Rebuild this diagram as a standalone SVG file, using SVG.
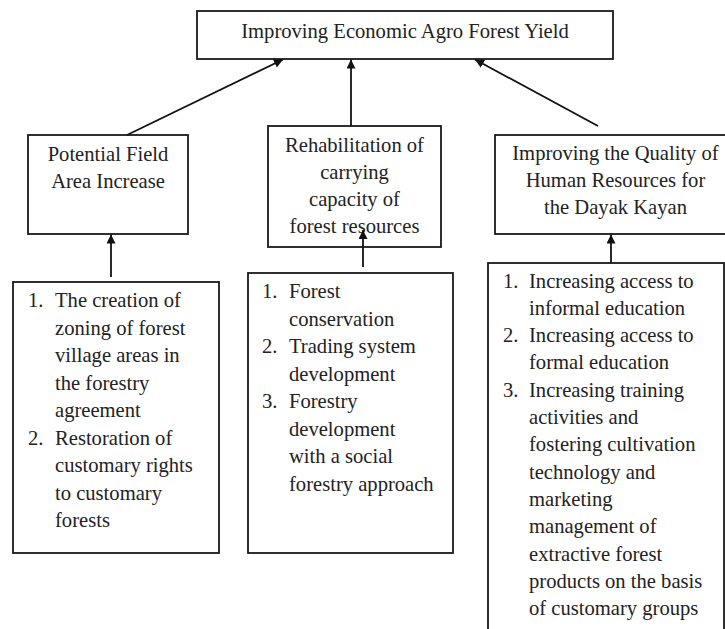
<svg xmlns="http://www.w3.org/2000/svg" width="725" height="629" viewBox="0 0 725 629">
  <defs>
    <marker id="arrow" viewBox="0 0 10 10" refX="10" refY="5" markerWidth="9" markerHeight="9" markerUnits="userSpaceOnUse" orient="auto">
      <path d="M0,0 L10,5 L0,10 z" fill="#111"/>
    </marker>
    <style>
      .box { fill: #fff; stroke: #1a1a1a; stroke-width: 1.8; }
      .t { font-family: "Liberation Serif", "Times New Roman", serif; font-size: 20.6px; fill: #222; }
      .c { text-anchor: middle; }
      .edge { stroke: #111; stroke-width: 1.8; fill: none; marker-end: url(#arrow); }
    </style>
  </defs>
  <rect width="725" height="629" fill="#fff"/>

  <!-- goal -->
  <g id="goal">
    <rect class="box" x="197" y="11" width="416" height="48"/>
    <text class="t c" x="405" y="38">Improving Economic Agro Forest Yield</text>
  </g>

  <!-- strategy boxes -->
  <g id="field-area">
    <rect class="box" x="28" y="135" width="160" height="99"/>
    <text class="t c" x="108" y="161">Potential Field</text>
    <text class="t c" x="108" y="188">Area Increase</text>
  </g>

  <g id="rehabilitation">
    <rect class="box" x="268" y="126" width="173" height="121"/>
    <text class="t c" x="354.5" y="152">Rehabilitation of</text>
    <text class="t c" x="354.5" y="179">carrying</text>
    <text class="t c" x="354.5" y="206">capacity of</text>
    <text class="t c" x="354.5" y="233">forest resources</text>
  </g>

  <g id="human-resources">
    <rect class="box" x="495" y="135" width="240" height="99"/>
    <text class="t c" x="615.5" y="160">Improving the Quality of</text>
    <text class="t c" x="615.5" y="187">Human Resources for</text>
    <text class="t c" x="615.5" y="214">the Dayak Kayan</text>
  </g>

  <!-- action lists -->
  <g id="field-area-actions">
    <rect class="box" x="13" y="282" width="206" height="271"/>
    <g class="t">
      <text x="28" y="307">1.</text>
      <text x="55" y="307">The creation of</text>
      <text x="55" y="334.5">zoning of forest</text>
      <text x="55" y="362">village areas in</text>
      <text x="55" y="389.5">the forestry</text>
      <text x="55" y="417">agreement</text>
      <text x="28" y="444.5">2.</text>
      <text x="55" y="444.5">Restoration of</text>
      <text x="55" y="472">customary rights</text>
      <text x="55" y="499.5">to customary</text>
      <text x="55" y="527">forests</text>
    </g>
  </g>

  <g id="rehabilitation-actions">
    <rect class="box" x="248" y="273" width="205" height="280"/>
    <g class="t">
      <text x="262" y="298">1.</text>
      <text x="289" y="298">Forest</text>
      <text x="289" y="325.5">conservation</text>
      <text x="262" y="353">2.</text>
      <text x="289" y="353">Trading system</text>
      <text x="289" y="380.5">development</text>
      <text x="262" y="408">3.</text>
      <text x="289" y="408">Forestry</text>
      <text x="289" y="435.5">development</text>
      <text x="289" y="463">with a social</text>
      <text x="289" y="490.5">forestry approach</text>
    </g>
  </g>

  <g id="human-resources-actions">
    <rect class="box" x="488" y="263" width="236" height="380"/>
    <g class="t">
      <text x="503" y="288">1.</text>
      <text x="529" y="288">Increasing access to</text>
      <text x="529" y="315">informal education</text>
      <text x="503" y="342">2.</text>
      <text x="529" y="342">Increasing access to</text>
      <text x="529" y="369">formal education</text>
      <text x="503" y="396.5">3.</text>
      <text x="529" y="396.5">Increasing training</text>
      <text x="529" y="424">activities and</text>
      <text x="529" y="451">fostering cultivation</text>
      <text x="529" y="478.5">technology and</text>
      <text x="529" y="506">marketing</text>
      <text x="529" y="533">management of</text>
      <text x="529" y="560.5">extractive forest</text>
      <text x="529" y="588">products on the basis</text>
      <text x="529" y="615">of customary groups</text>
    </g>
  </g>

  <!-- connectors -->
  <g id="connectors">
    <line class="edge" x1="127" y1="135" x2="283" y2="59.5"/>
    <line class="edge" x1="351" y1="126" x2="351" y2="59.5"/>
    <line class="edge" x1="598" y1="126" x2="475" y2="59.5"/>
    <line class="edge" x1="111" y1="277" x2="111" y2="234.5"/>
    <line class="edge" x1="363" y1="267" x2="363" y2="230"/>
    <line class="edge" x1="611" y1="263" x2="611" y2="234.5"/>
  </g>
</svg>
